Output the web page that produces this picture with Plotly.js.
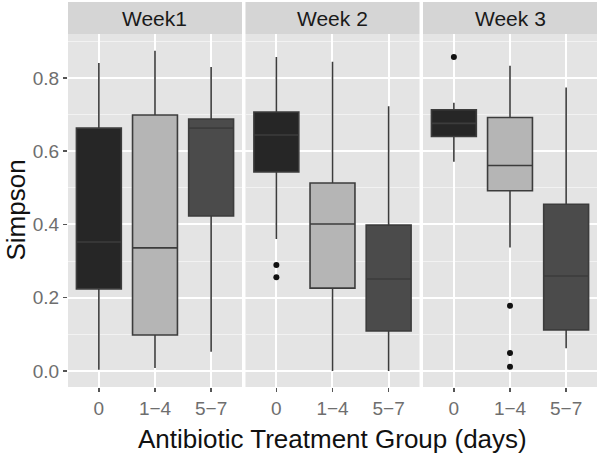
<!DOCTYPE html>
<html>
<head>
<meta charset="utf-8">
<script src="https://cdn.plot.ly/plotly-3.0.1.min.js"></script>
<style>html,body{margin:0;padding:0;background:#fff;}#chart{width:600px;height:454px;}</style>
</head>
<body>
<div id="chart"></div>
<script>
// Categories and facets
const groups = ['0', '1\u22124', '5\u22127'];
const weeks = ['Week1', 'Week 2', 'Week 3'];
// Box statistics per week (order: 0, 1-4, 5-7)
const lowerWk1 = [0.003, 0.008, 0.052];
const q1Wk1 = [0.224, 0.098, 0.423];
const medWk1 = [0.352, 0.336, 0.663];
const q3Wk1 = [0.663, 0.699, 0.688];
const upperWk1 = [0.841, 0.874, 0.830];

const lowerWk2 = [0.360, 0.000, 0.000];
const q1Wk2 = [0.543, 0.226, 0.109];
const medWk2 = [0.644, 0.401, 0.251];
const q3Wk2 = [0.707, 0.513, 0.398];
const upperWk2 = [0.857, 0.844, 0.723];

const lowerWk3 = [0.571, 0.337, 0.062];
const q1Wk3 = [0.640, 0.492, 0.112];
const medWk3 = [0.676, 0.561, 0.259];
const q3Wk3 = [0.713, 0.692, 0.455];
const upperWk3 = [0.732, 0.833, 0.774];

// Outliers
const outWk2Group = ['0', '0'];
const outWk2Val = [0.289, 0.256];
const outWk3Group = ['0', '1\u22124', '1\u22124', '1\u22124'];
const outWk3Val = [0.857, 0.178, 0.049, 0.011];

const fills = ['#262626', '#b5b5b5', '#4b4b4b'];
const stats = [
  [lowerWk1, q1Wk1, medWk1, q3Wk1, upperWk1],
  [lowerWk2, q1Wk2, medWk2, q3Wk2, upperWk2],
  [lowerWk3, q1Wk3, medWk3, q3Wk3, upperWk3]
];
const xaxNames = ['x', 'x2', 'x3'];

const traces = [];
stats.forEach((s, w) => {
  groups.forEach((g, i) => {
    traces.push({
      type: 'box',
      x: [g],
      lowerfence: [s[0][i]], q1: [s[1][i]], median: [s[2][i]], q3: [s[3][i]], upperfence: [s[4][i]],
      xaxis: xaxNames[w], yaxis: 'y',
      fillcolor: fills[i],
      line: {color: '#3c3c3c', width: 1.6},
      whiskerwidth: 0,
      width: 0.8,
      boxpoints: false,
      hoverinfo: 'skip',
      showlegend: false
    });
  });
});
traces.push({type: 'scatter', mode: 'markers', x: outWk2Group, y: outWk2Val, xaxis: 'x2', yaxis: 'y',
  marker: {color: '#111', size: 6}, showlegend: false, hoverinfo: 'skip'});
traces.push({type: 'scatter', mode: 'markers', x: outWk3Group, y: outWk3Val, xaxis: 'x3', yaxis: 'y',
  marker: {color: '#111', size: 6}, showlegend: false, hoverinfo: 'skip'});

const domains = [[0, 0.3289], [0.3355, 0.6645], [0.6711, 1]];
const font = {family: 'Liberation Sans, Arial, sans-serif'};
function xax(d) {
  return {
    domain: d, type: 'category', categoryarray: groups, categoryorder: 'array',
    range: [-0.55, 2.55], showgrid: true, gridcolor: '#ffffff', gridwidth: 2,
    zeroline: false, showline: false, ticks: 'outside', ticklen: 4, tickwidth: 1.5, tickcolor: '#555',
    tickfont: {family: font.family, size: 19, color: '#6e6e6e'}, fixedrange: true, anchor: 'y'
  };
}
const layout = {
  width: 600, height: 454,
  margin: {l: 68, r: 3, t: 34, b: 67},
  paper_bgcolor: '#ffffff', plot_bgcolor: '#e4e4e4',
  boxmode: 'overlay',
  xaxis: xax(domains[0]), xaxis2: xax(domains[1]), xaxis3: xax(domains[2]),
  yaxis: {
    range: [-0.044, 0.92], tickvals: [0, 0.2, 0.4, 0.6, 0.8], ticktext: ['0.0', '0.2', '0.4', '0.6', '0.8'],
    showgrid: true, gridcolor: '#ffffff', gridwidth: 2, zeroline: false, showline: false,
    minor: {tickvals: [0.1, 0.3, 0.5, 0.7, 0.9], showgrid: true, gridcolor: '#f2f2f2', gridwidth: 1, ticks: ''},
    ticks: 'outside', ticklen: 4, tickwidth: 1.5, tickcolor: '#555',
    tickfont: {family: font.family, size: 19, color: '#6e6e6e'}, anchor: 'x', fixedrange: true
  },
  shapes: weeks.map((w, k) => ({
    type: 'rect', xref: xaxNames[k] + ' domain', yref: 'paper', x0: 0, x1: 1, y0: 1, y1: 1 + 32 / 353,
    fillcolor: '#d5d5d5', line: {width: 0}, layer: 'below'
  })),
  annotations: weeks.map((w, k) => ({
    text: w, xref: xaxNames[k] + ' domain', yref: 'paper', x: 0.5, y: 1 + 16 / 353,
    xanchor: 'center', yanchor: 'middle', showarrow: false,
    font: {family: font.family, size: 21, color: '#1a1a1a'}
  })).concat([
    {text: 'Antibiotic Treatment Group (days)', xref: 'paper', yref: 'paper', x: 0.5, y: -52 / 353,
      xanchor: 'center', yanchor: 'middle', showarrow: false,
      font: {family: font.family, size: 26, color: '#111'}},
    {text: 'Simpson', xref: 'paper', yref: 'paper', x: -53 / 529, y: 0.5, textangle: -90,
      xanchor: 'center', yanchor: 'middle', showarrow: false,
      font: {family: font.family, size: 26, color: '#111'}}
  ])
};
Plotly.newPlot('chart', traces, layout, {staticPlot: true, displayModeBar: false});
</script>
</body>
</html>
